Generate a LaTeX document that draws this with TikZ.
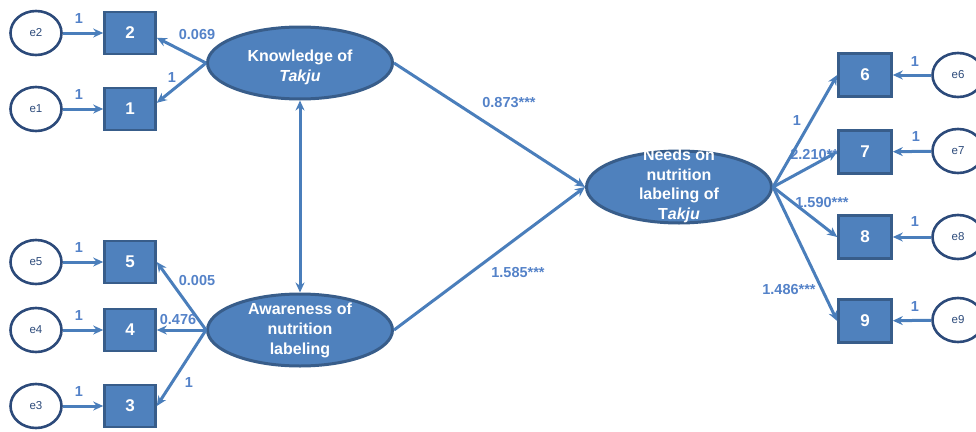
\documentclass[tikz,border=0pt]{standalone}
\usepackage{fontspec}
\setmainfont{Liberation Sans}
\usetikzlibrary{arrows.meta,shapes.geometric}
\definecolor{fillb}{RGB}{79,129,189}
\definecolor{edgeb}{RGB}{56,93,138}
\definecolor{arrb}{RGB}{74,126,187}
\definecolor{labb}{RGB}{84,130,200}
\definecolor{errb}{RGB}{44,74,122}
\begin{document}
\begin{tikzpicture}[x=1pt,y=-1pt,
 obs/.style={draw=edgeb, line width=2.6pt, fill=fillb, minimum width=51pt, minimum height=42pt, inner sep=0pt, text=white, font=\fontsize{17}{17}\selectfont\bfseries},
 lat/.style={ellipse, draw=edgeb, line width=3pt, fill=fillb, minimum width=185pt, minimum height=72pt, inner sep=0pt},
 lattext/.style={text=white, align=center, inner sep=0pt, font=\fontsize{16}{20}\selectfont\bfseries},
 err/.style={ellipse, draw=errb, line width=2.6pt, fill=white, minimum width=51pt, minimum height=44pt, inner sep=0pt, text=errb, font=\fontsize{11.5}{12}\selectfont},
 arr/.style={draw=arrb, line width=3pt, -{Stealth[length=10pt,width=9pt]}},
 arrboth/.style={draw=arrb, line width=3pt, {Stealth[length=10pt,width=9pt]}-{Stealth[length=10pt,width=9pt]}},
 lab/.style={text=labb, font=\fontsize{14.5}{15}\selectfont\bfseries, inner sep=0pt},
]
\useasboundingbox (0,0) rectangle (976,431);
\clip (0,0) rectangle (976,431);

% label partly hidden behind box 7
\node[lab] (l7) at (817,155) {2.210***};

% error terms
\node[err] (e2) at (36,33) {e2};
\node[err] (e1) at (36,109) {e1};
\node[err] (e5) at (36,262) {e5};
\node[err] (e4) at (36,330) {e4};
\node[err] (e3) at (36,406) {e3};
\node[err] (e6) at (958,75) {e6};
\node[err] (e7) at (958,151) {e7};
\node[err] (e8) at (958,237) {e8};
\node[err] (e9) at (958,320) {e9};

% observed variables
\node[obs] (b2) at (130,33) {2};
\node[obs] (b1) at (130,109) {1};
\node[obs] (b5) at (130,262) {5};
\node[obs] (b4) at (130,330) {4};
\node[obs] (b3) at (130,406) {3};
\node[obs, minimum width=53pt, minimum height=43pt] (b6) at (865,75) {6};
\node[obs, minimum width=53pt, minimum height=43pt] (b7) at (865,152) {7};
\node[obs, minimum width=53pt, minimum height=43pt] (b8) at (865,237) {8};
\node[obs, minimum width=53pt, minimum height=43pt] (b9) at (865,321) {9};

% latent variables
\node[lat] (know) at (300,63) {};
\node[lattext] (knowt) at (300,67) {Knowledge of\\\textit{Takju}};
\node[lat] (aware) at (300,330) {};
\node[lattext] (awaret) at (300,330) {Awareness of\\nutrition\\labeling};
\node[lat] (needs) at (679,187) {};
\node[lattext, font=\fontsize{16}{19.5}\selectfont\bfseries] (needst) at (679,186) {Needs on\\nutrition\\labeling of\\T\textit{akju}};

% error arrows
\draw[arr] (e2) -- (b2);
\draw[arr] (e1) -- (b1);
\draw[arr] (e5) -- (b5);
\draw[arr] (e4) -- (b4);
\draw[arr] (e3) -- (b3);
\draw[arr] (e6) -- (b6);
\draw[arr] (e7) -- (b7);
\draw[arr] (e8) -- (b8);
\draw[arr] (e9) -- (b9);

% loadings
\draw[arr] (know.west) -- (b2.-10);
\draw[arr] (know.west) -- (b1.13);
\draw[arr] (aware.west) -- (b5.east);
\draw[arr] (aware.west) -- (b4.east);
\draw[arr] (aware.west) -- (b3.east);
\draw[arr] (needs.east) -- (b6.west);
\draw[arr] (needs.east) -- (b7.west);
\draw[arr] (needs.east) -- (b8.west);
\draw[arr] (needs.east) -- (b9.west);

% structural paths
\draw[arrboth] (know.south) -- (aware.north);
\draw[arr] (know.east) -- (needs.west);
\draw[arr] (aware.east) -- (needs.west);

% labels
\node[lab] (le2) at (79,19) {1};
\node[lab] (le1) at (79,95) {1};
\node[lab] (le5) at (79,248) {1};
\node[lab] (le4) at (79,316) {1};
\node[lab] (le3) at (79,392) {1};
\node[lab] (le6) at (915,62) {1};
\node[lab] (le7) at (916,137) {1};
\node[lab] (le8) at (915,222) {1};
\node[lab] (le9) at (915,307) {1};
\node[lab] (l2) at (197,35) {0.069};
\node[lab] (l1) at (172,78) {1};
\node[lab] (l5) at (197,281) {0.005};
\node[lab] (l4) at (178,320) {0.476};
\node[lab] (l3) at (189,383) {1};
\node[lab] (l6) at (797,121) {1};
\node[lab] (l8) at (822,203) {1.590***};
\node[lab] (l9) at (789,290) {1.486***};
\node[lab] (lk) at (509,103) {0.873***};
\node[lab] (la) at (518,273) {1.585***};
\end{tikzpicture}
\end{document}
